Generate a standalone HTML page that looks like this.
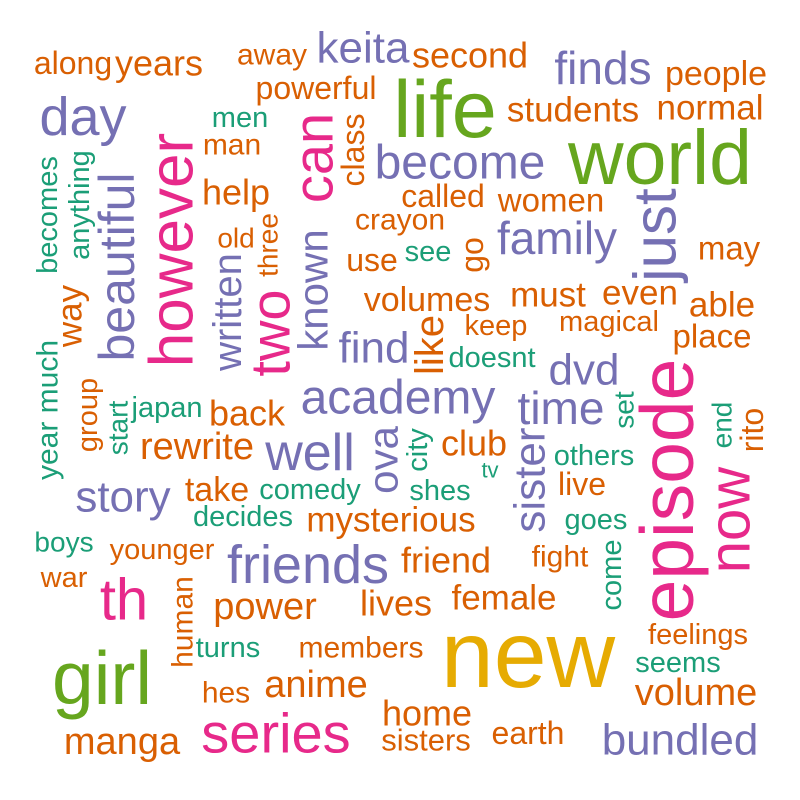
<!DOCTYPE html>
<html><head><meta charset="utf-8"><style>
html,body{margin:0;padding:0;background:#fff;}
svg{display:block;}
text{font-family:"Liberation Sans",Arial,sans-serif;}
</style></head><body>
<svg id="cloud" width="800" height="800" viewBox="0 0 800 800" xmlns="http://www.w3.org/2000/svg">
<rect width="800" height="800" fill="#fff"/>
</svg>
<script>
// data
const words = ["new","world","life","girl","episode","however","can","two","series","th","now","friends","academy","well","beautiful","day","become","family","just","bundled","find","dvd","time","story","known","written","finds","keita","sister","ova","rewrite","manga","power","anime","volume","mysterious","rewrite2","help","back","take","like","friend","lives","female","home","volumes","must","even","able","students","normal","women","second","people","years","place","club","rito","class","go","may","power2","years2","away","powerful","live","called","along","crayon","sisters","earth","use","members","hes","man","old","feelings","fight","way","three","group","human","war","younger","keep","magical","becomes","anything","men","see","doesnt","japan","others","comedy","shes","decides","goes","boys","turns","seems","city","set","end","come","start","year much","tv"];
const freqs = [95,77,81,75,75,62,56,56,56,58,58,54,48,52,50,54,48,46,60,44,44,44,46,44,42,40,46,44,44,42,38,38,38,38,38,35,0,36,36,34,40,36,36,35,36,34,35,35,35,35,35,33,36,34,36,33,36,32,32,32,33,0,0,30,32,32,32,32,30,31,32,32,30,30,30,28,29,30,35,28,29,30,29,29,29,29,29,29,29,29,29,29,29,29,29,29,29,28,29,29,29,28,28,29,28,30,22];
const groups = ["gold","green","green","green","pink","pink","pink","pink","pink","pink","pink","purple","purple","purple","purple","purple","purple","purple","purple","purple","purple","purple","purple","purple","purple","purple","purple","purple","purple","purple","orange","orange","orange","orange","orange","orange","orange","orange","orange","orange","orange","orange","orange","orange","orange","orange","orange","orange","orange","orange","orange","orange","orange","orange","orange","orange","orange","orange","orange","orange","orange","orange","orange","orange","orange","orange","orange","orange","orange","orange","orange","orange","orange","orange","orange","orange","orange","orange","orange","orange","orange","orange","orange","orange","orange","orange","teal","teal","teal","teal","teal","teal","teal","teal","teal","teal","teal","teal","teal","teal","teal","teal","teal","teal","teal","teal","teal"];
// layout (not data): centers and rotation
const layoutX = [528,660,445,102,667,172,313,270,276,124,730,308,398,310,117,83,460,557,655,680,374,584,561,123,313,228,603,363,530,383,197,122,265,316,696,391,0,236,247,217,430,446,396,504,427,427,548,640,722,573,710,551,470,716,159,712,474,752,353,472,729,0,0,272,316,582,443,73,400,426,528,372,361,226,232,236,698,560,70,268,88,183,64,162,496,609,48,80,240,428,492,167,594,310,440,243,596,64,228,678,418,624,722,612,118,48,490];
const layoutY = [655,158,110,678,490,250,158,333,733,600,520,565,398,453,267,117,163,238,235,740,348,370,408,497,290,312,68,48,480,460,447,742,607,685,693,520,0,192,413,490,345,560,603,598,713,300,295,293,305,110,108,200,55,74,63,336,443,430,150,255,248,0,0,55,88,484,196,63,220,740,733,260,648,693,145,238,635,557,316,245,415,622,578,550,326,322,215,205,118,252,358,408,456,490,491,517,520,542,648,663,450,410,425,575,428,410,470];
const rotated = [0,0,0,0,1,1,1,1,0,0,1,0,0,0,1,0,0,0,1,0,0,0,0,0,1,1,0,0,1,1,0,0,0,0,0,0,0,0,0,0,1,0,0,0,0,0,0,0,0,0,0,0,0,0,0,0,0,1,1,1,0,0,0,0,0,0,0,0,0,0,0,0,0,0,0,0,0,0,1,1,1,1,0,0,0,0,1,1,0,0,0,0,0,0,0,0,0,0,0,0,1,1,1,1,1,1,0];
const palette = {gold:"#e6ab02",green:"#66a61e",pink:"#e7298a",purple:"#7570b3",orange:"#d95f02",teal:"#1b9e77"};
function sizeScale(f){ return f; }
const svg = document.getElementById('cloud');
for (let i=0;i<words.length;i++){
  if (!freqs[i]) continue;
  const t = document.createElementNS('http://www.w3.org/2000/svg','text');
  const x = layoutX[i], y = layoutY[i];
  t.setAttribute('x', x);
  t.setAttribute('y', y);
  t.setAttribute('text-anchor','middle');
  t.setAttribute('dominant-baseline','central');
  t.setAttribute('font-size', sizeScale(freqs[i]));
  t.setAttribute('fill', palette[groups[i]]);
  if (rotated[i]) t.setAttribute('transform','rotate(-90 '+x+' '+y+')');
  t.textContent = words[i];
  
  
  svg.appendChild(t);
}
</script>
</body></html>
